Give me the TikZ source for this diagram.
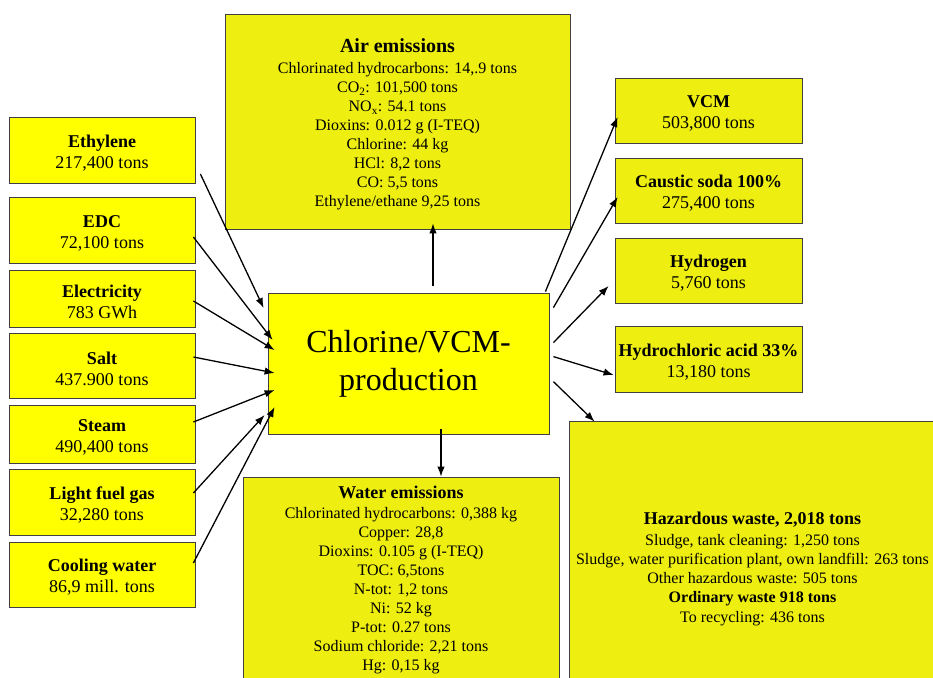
\documentclass[tikz,border=0pt]{standalone}
\usepackage{fontspec}
\setmainfont{Liberation Serif}
\usetikzlibrary{calc,arrows.meta}
\definecolor{yelA}{RGB}{255,255,0}
\definecolor{yelB}{RGB}{238,238,17}
\newcommand\mytopstrut{\rule{0pt}{18.5pt}}
\begin{document}
\begin{tikzpicture}[x=1pt,y=-1pt]
\useasboundingbox (0,0) rectangle (933,677);
\clip (0,0) rectangle (933,677);
\tikzset{
  bx/.style={draw=black!75, line width=0.8pt, inner sep=0pt, align=center, fill=#1},
  bx/.default=yelA,
  inp/.style={bx, minimum width=186pt, font=\fontsize{18}{21}\selectfont},
  outp/.style={bx=yelB, minimum width=187pt, minimum height=65pt, font=\fontsize{18}{21}\selectfont},
  arr/.style={line width=1.3pt, -{Latex[length=10pt,width=7.5pt]}}
}
% inputs
\node[inp, minimum height=66pt] (eth)   at (102,150)   {\mytopstrut\textbf{Ethylene}\\217,400 tons};
\node[inp, minimum height=66pt] (edc)   at (102,230)   {\mytopstrut\textbf{EDC}\\72,100 tons};
\node[inp, minimum height=57pt] (elec)  at (102,298.5) {\mytopstrut\textbf{Electricity}\\783 GWh};
\node[inp, minimum height=65pt] (salt)  at (102,366)   {\mytopstrut\textbf{Salt}\\437.900 tons};
\node[inp, minimum height=58pt] (steam) at (102,434)   {\mytopstrut\textbf{Steam}\\490,400 tons};
\node[inp, minimum height=66pt] (fuel)  at (102,502)   {\mytopstrut\textbf{Light fuel gas}\\32,280 tons};
\node[inp, minimum height=65pt] (cool)  at (102,574.5) {\mytopstrut\textbf{Cooling water}\\86,9 mill. tons};
% central
\node[bx, minimum width=281pt, minimum height=141pt, font=\fontsize{32}{38}\selectfont] (prod) at (408.5,363.5) {\raisebox{-5pt}{Chlorine/VCM-}\\\raisebox{-5pt}{production}};
% air emissions
\node[bx=yelB, minimum width=345pt, minimum height=215pt, font=\fontsize{16}{19}\selectfont] (air) at (397.5,121.5)
 {\rule{0pt}{20pt}{\fontsize{20}{23}\selectfont\bfseries Air emissions}\\[2pt]
  Chlorinated hydrocarbons: 14,.9 tons\\
  CO\textsubscript{2}: 101,500 tons\\
  NO\textsubscript{x}: 54.1 tons\\
  Dioxins: 0.012 g (I-TEQ)\\
  Chlorine: 44 kg\\
  HCl: 8,2 tons\\
  CO: 5,5 tons\\
  Ethylene/ethane 9,25 tons};
% water emissions
\node[bx=yelB, minimum width=316pt, minimum height=206pt, font=\fontsize{16}{19}\selectfont] (water) at (401,580)
 {{\fontsize{18}{21}\selectfont\bfseries Water emissions}\\[1pt]
  Chlorinated hydrocarbons: 0,388 kg\\
  Copper: 28,8\\
  Dioxins: 0.105 g (I-TEQ)\\
  TOC: 6,5tons\\
  N-tot: 1,2 tons\\
  Ni: 52 kg\\
  P-tot: 0.27 tons\\
  Sodium chloride: 2,21 tons\\
  Hg: 0,15 kg};
% outputs
\node[outp] (vcm) at (708.5,110.5) {\mytopstrut\textbf{VCM}\\503,800 tons};
\node[outp] (soda) at (708.5,190.5) {\mytopstrut\textbf{Caustic soda 100\%}\\275,400 tons};
\node[outp] (hyd) at (708.5,270.5) {\mytopstrut\textbf{Hydrogen}\\5,760 tons};
\node[outp, minimum height=66pt] (hcl) at (708.5,359) {\mytopstrut\textbf{Hydrochloric acid 33\%}\\13,180 tons};
% waste
\node[bx=yelB, minimum width=367pt, minimum height=296pt, font=\fontsize{16}{19.3}\selectfont] (haz) at (752.5,569)
 {{\fontsize{18}{21}\selectfont\bfseries Hazardous waste, 2,018 tons}\\[1pt]
  Sludge, tank cleaning: 1,250 tons\\
  Sludge, water purification plant, own landfill: 263 tons\\
  Other hazardous waste: 505 tons\\
  \textbf{Ordinary waste 918 tons}\\
  To recycling: 436 tons};
% input arrows
\draw[arr] ($(eth.east)+(5,24)$)   -- ($(prod.west)+(-4,-55.5)$);
\draw[arr] ($(edc.east)+(-2,7)$)   -- ($(prod.west)+(5,-23.5)$);
\draw[arr] ($(elec.east)+(-2,2.5)$) -- ($(prod.west)+(7,-13.5)$);
\draw[arr] ($(salt.east)+(-2,-9)$) -- ($(prod.west)+(7,9.5)$);
\draw[arr] ($(steam.east)+(-2,-12)$) -- ($(prod.west)+(7,26.5)$);
\draw[arr] ($(fuel.east)+(-2,-9)$) -- ($(prod.west)+(-3,51.5)$);
\draw[arr] ($(cool.east)+(-2,-11.5)$) -- ($(prod.west)+(7,43.5)$);
% vertical arrows
\draw[arr] ($(prod.north)+(24.5,-7)$) -- ($(air.south)+(35.5,-6)$);
\draw[arr] ($(prod.south)+(32.5,-5)$) -- ($(water.north)+(40,0)$);
% output arrows
\draw[arr] ($(prod.north east)+(-4,-1)$) -- ($(vcm.west)+(3,6.5)$);
\draw[arr] ($(prod.north east)+(4,15)$) -- ($(soda.west)+(3,6.5)$);
\draw[arr] ($(prod.north east)+(4,50)$) -- ($(hyd.west)+(-6,15.5)$);
\draw[arr] ($(prod.north east)+(4,64)$) -- ($(hcl.west)+(-1,16)$);
\draw[arr] ($(prod.north east)+(4,89)$) -- ($(haz.north west)+(26,1)$);
\end{tikzpicture}
\end{document}
